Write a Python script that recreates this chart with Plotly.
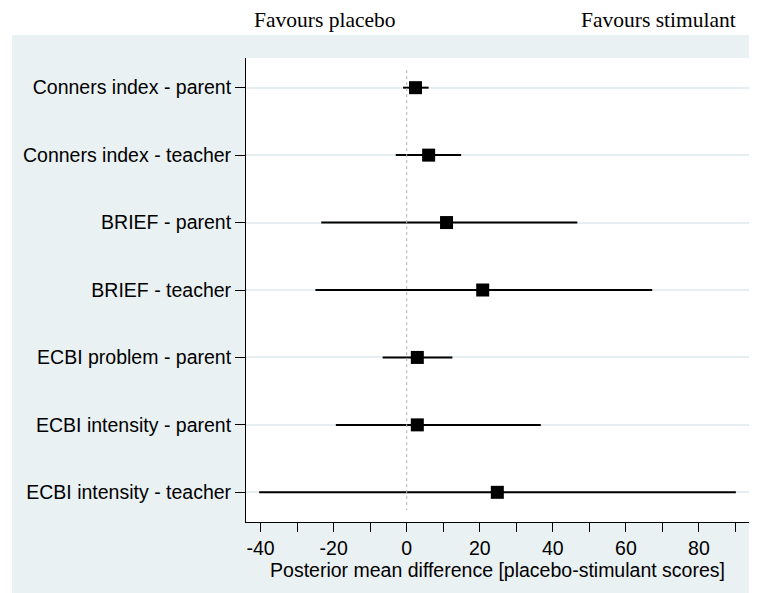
import plotly.graph_objects as go

outcomes = [
    "Conners index - parent",
    "Conners index - teacher",
    "BRIEF - parent",
    "BRIEF - teacher",
    "ECBI problem - parent",
    "ECBI intensity - parent",
    "ECBI intensity - teacher",
]
means = [2.4, 6.0, 10.9, 20.8, 2.9, 2.9, 24.8]
lower = [-1.0, -3.0, -23.4, -25.0, -6.6, -19.4, -40.4]
upper = [6.0, 14.9, 46.7, 67.2, 12.5, 36.7, 90.1]

x_major = [-40, -20, 0, 20, 40, 60, 80]
x_major_labels = ["-40", "-20", "0", "20", "40", "60", "80"]
x_title = "Posterior mean difference [placebo-stimulant scores]"
left_note = "Favours placebo"
right_note = "Favours stimulant"

# page is offset by the 8px body margin, so lay out in figure coordinates
OFF = 8
W, H = 757 - OFF, 593 - OFF
ml, mr, mt = 246 - OFF, 8, 58 - OFF
mb = H - (522 - OFF)
pw = W - ml - mr
ph = H - mt - mb

def px_x(page_x):
    return (page_x - OFF - ml) / pw

def px_y(page_y):
    return (mt + ph - (page_y - OFF)) / ph

panel = "#EAF1F3"

fig = go.Figure()
fig.add_trace(go.Scatter(
    x=means, y=outcomes, mode="markers",
    marker=dict(symbol="square", size=13, color="black"),
    error_x=dict(type="data", symmetric=False,
                 array=[u - m for u, m in zip(upper, means)],
                 arrayminus=[m - l for m, l in zip(means, lower)],
                 thickness=2, width=0, color="black"),
    showlegend=False, hoverinfo="skip",
))

n = len(outcomes)
shapes = [
    dict(type="rect", xref="paper", yref="paper", layer="below",
         x0=px_x(12), x1=px_x(760), y0=px_y(600), y1=px_y(35),
         fillcolor=panel, line=dict(width=0)),
    dict(type="rect", xref="paper", yref="paper", layer="below",
         x0=0, x1=1, y0=0, y1=1, fillcolor="white", line=dict(width=0)),
    dict(type="line", xref="x", yref="y", x0=0, x1=0,
         y0=-0.26, y1=n - 1 + 0.26,
         line=dict(color="#B0B0B0", width=1, dash="dot")),
]

fig.update_layout(
    width=W, height=H,
    margin=dict(l=ml, r=mr, t=mt, b=mb, pad=0),
    paper_bgcolor="white", plot_bgcolor="rgba(0,0,0,0)",
    font=dict(family="Liberation Sans, Arial, sans-serif", size=19.5, color="black"),
    shapes=shapes,
    xaxis=dict(
        range=[-44.0, 93.7], tickvals=x_major, ticktext=x_major_labels,
        ticks="outside", ticklen=9,
        tickwidth=1, tickcolor="black", showgrid=False, zeroline=False,
        showline=True, linecolor="black", linewidth=1,
        minor=dict(dtick=10, tick0=0, ticks="outside", ticklen=9,
                   tickcolor="black", tickwidth=1, showgrid=False),
        title=dict(text=x_title, standoff=4, font=dict(size=19.5)),
        tickfont=dict(size=19.5),
    ),
    yaxis=dict(
        type="category", categoryorder="array", categoryarray=outcomes,
        range=[n - 1 + 0.44, -0.44], ticks="outside", ticklen=10,
        tickwidth=1, tickcolor="black", showgrid=True,
        gridcolor="#E6EEF1", gridwidth=1.5, zeroline=False,
        showline=True, linecolor="black", linewidth=1,
        tickfont=dict(size=19.5),
    ),
    annotations=[
        dict(text=left_note, xref="paper", yref="paper",
             x=px_x(325), y=px_y(20),
             xanchor="center", yanchor="middle", showarrow=False,
             font=dict(family="Liberation Serif, Times New Roman, serif", size=21.5)),
        dict(text=right_note, xref="paper", yref="paper",
             x=px_x(658), y=px_y(20),
             xanchor="center", yanchor="middle", showarrow=False,
             font=dict(family="Liberation Serif, Times New Roman, serif", size=21.5)),
    ],
)

fig.write_html("out.html")
